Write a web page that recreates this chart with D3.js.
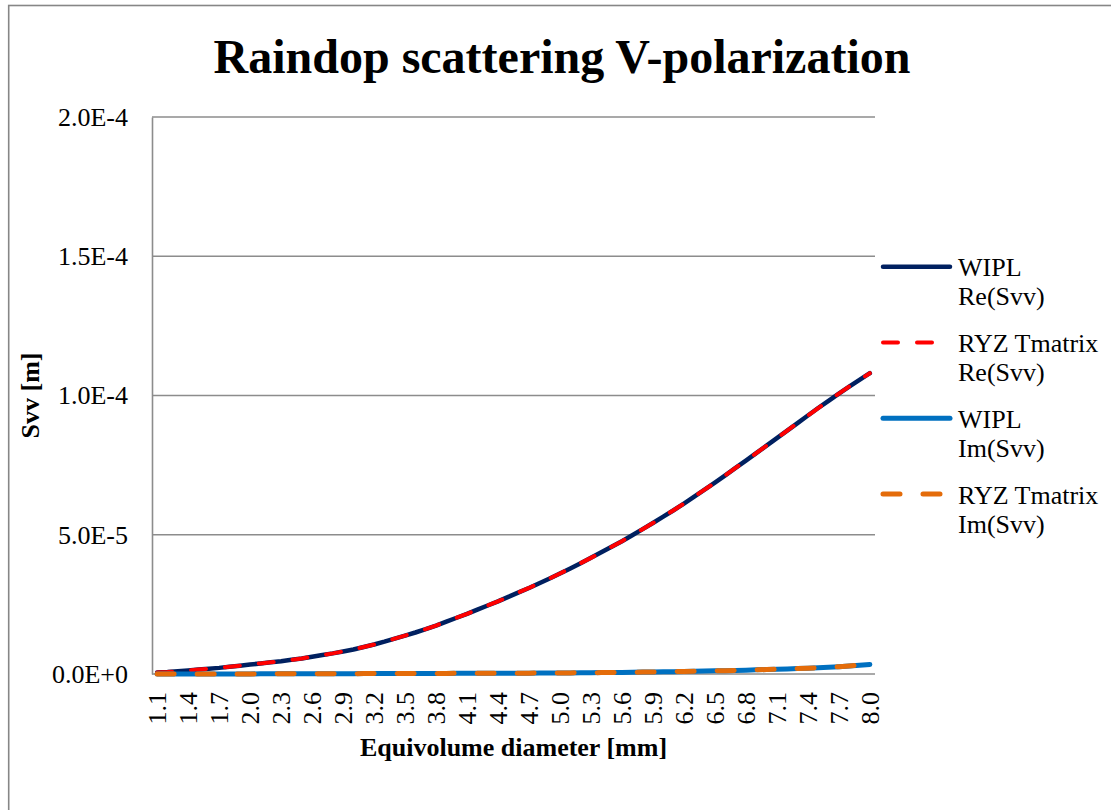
<!DOCTYPE html>
<html>
<head>
<meta charset="utf-8">
<script src="https://cdn.jsdelivr.net/npm/d3@7"></script>
<style>
  body { margin: 0; background: #fff; }
  svg text { font-family: "Times New Roman", "Liberation Serif", serif; fill: #000; }
</style>
</head>
<body>
<svg id="chart" width="1111" height="810"></svg>
<script>
// equivolume diameter [mm], 1.1 .. 8.0 step 0.1
var diameters = ["1.1","1.2","1.3","1.4","1.5","1.6","1.7","1.8","1.9","2.0",
  "2.1","2.2","2.3","2.4","2.5","2.6","2.7","2.8","2.9","3.0",
  "3.1","3.2","3.3","3.4","3.5","3.6","3.7","3.8","3.9","4.0",
  "4.1","4.2","4.3","4.4","4.5","4.6","4.7","4.8","4.9","5.0",
  "5.1","5.2","5.3","5.4","5.5","5.6","5.7","5.8","5.9","6.0",
  "6.1","6.2","6.3","6.4","6.5","6.6","6.7","6.8","6.9","7.0",
  "7.1","7.2","7.3","7.4","7.5","7.6","7.7","7.8","7.9","8.0"];

// values in units of 1e-5 m
var wiplRe = [0.05,0.07,0.10,0.13,0.16,0.19,0.22,0.26,0.30,0.34,
  0.38,0.42,0.46,0.51,0.56,0.62,0.68,0.74,0.81,0.88,
  0.97,1.06,1.16,1.27,1.38,1.49,1.61,1.74,1.88,2.02,
  2.16,2.31,2.46,2.61,2.77,2.93,3.09,3.26,3.43,3.61,
  3.79,3.98,4.17,4.37,4.57,4.77,4.98,5.20,5.42,5.65,
  5.88,6.12,6.37,6.62,6.87,7.13,7.40,7.66,7.93,8.20,
  8.47,8.74,9.01,9.28,9.55,9.81,10.07,10.32,10.56,10.80];

var ryzRe = [0.05,0.07,0.10,0.13,0.16,0.19,0.22,0.26,0.30,0.34,
  0.38,0.42,0.46,0.51,0.56,0.62,0.68,0.74,0.81,0.88,
  0.97,1.06,1.16,1.27,1.38,1.49,1.61,1.74,1.88,2.02,
  2.16,2.31,2.46,2.61,2.77,2.93,3.09,3.26,3.43,3.61,
  3.79,3.98,4.17,4.37,4.57,4.77,4.98,5.20,5.42,5.65,
  5.88,6.12,6.37,6.62,6.87,7.13,7.40,7.66,7.93,8.20,
  8.47,8.74,9.01,9.28,9.55,9.81,10.07,10.32,10.56,10.80];

var wiplIm = [0.000,0.000,0.001,0.001,0.001,0.002,0.002,0.003,0.003,0.004,
  0.005,0.005,0.006,0.007,0.008,0.009,0.010,0.011,0.012,0.013,
  0.014,0.015,0.016,0.017,0.018,0.019,0.020,0.021,0.022,0.023,
  0.024,0.025,0.026,0.027,0.028,0.029,0.031,0.033,0.035,0.037,
  0.040,0.043,0.046,0.050,0.054,0.058,0.063,0.068,0.073,0.079,
  0.085,0.091,0.098,0.105,0.113,0.121,0.130,0.139,0.149,0.160,
  0.171,0.183,0.196,0.210,0.225,0.241,0.262,0.288,0.316,0.345];

var ryzIm = [0.000,0.000,0.001,0.001,0.001,0.002,0.002,0.003,0.003,0.004,
  0.005,0.005,0.006,0.007,0.008,0.009,0.010,0.011,0.012,0.013,
  0.014,0.015,0.016,0.017,0.018,0.019,0.020,0.021,0.022,0.023,
  0.024,0.025,0.026,0.027,0.028,0.029,0.031,0.033,0.035,0.037,
  0.040,0.043,0.046,0.050,0.054,0.058,0.063,0.068,0.073,0.079,
  0.085,0.091,0.098,0.105,0.113,0.121,0.130,0.139,0.149,0.160,
  0.171,0.183,0.196,0.210,0.225,0.241,0.262,0.288,0.316,0.345];

var seriesNames = [["WIPL", "Re(Svv)"], ["RYZ Tmatrix", "Re(Svv)"], ["WIPL", "Im(Svv)"], ["RYZ Tmatrix", "Im(Svv)"]];
var yTicks = [0, 5e-5, 1e-4, 1.5e-4, 2e-4];
var yTickLabels = ["0.0E+0", "5.0E-5", "1.0E-4", "1.5E-4", "2.0E-4"];

var styles = [
  {color: "#002060", width: 4.5, dash: null},
  {color: "#ff0000", width: 4, dash: "15,19"},
  {color: "#0070c0", width: 5, dash: null},
  {color: "#e46c0a", width: 5, dash: "17,23"}
];

var margin = {top: 117, left: 152, right: 236, bottom: 136};
var W = 1111, H = 810;
var plotW = W - margin.left - margin.right;
var plotH = H - margin.top - margin.bottom;

var svg = d3.select("#chart");

// chart frame
svg.append("rect")
  .attr("x", 8.7).attr("y", 5.5)
  .attr("width", 1200).attr("height", 900)
  .attr("fill", "none")
  .attr("stroke", "#868686")
  .attr("stroke-width", 1.6);

var x = d3.scalePoint().domain(diameters).range([0, plotW]).padding(0.5);
var y = d3.scaleLinear().domain([0, 2e-4]).range([plotH, 0]);

var g = svg.append("g").attr("transform", "translate(" + margin.left + "," + margin.top + ")");

// gridlines
g.selectAll(".grid").data(yTicks).enter().append("line")
  .attr("x1", 0).attr("x2", plotW)
  .attr("y1", function(d) { return y(d); })
  .attr("y2", function(d) { return y(d); })
  .attr("stroke", "#8c8c8c")
  .attr("stroke-width", 1.4);

// y axis
var yAxis = d3.axisLeft(y).tickValues(yTicks)
  .tickFormat(function(d, i) { return yTickLabels[i]; })
  .tickSize(0).tickPadding(24);
var yg = g.append("g").call(yAxis);
yg.select(".domain").attr("stroke", "#8c8c8c").attr("stroke-width", 1.6);
yg.selectAll("text").style("font-size", "26px")
  .style("font-family", '"Times New Roman", "Liberation Serif", serif');

// x axis
var xAxis = d3.axisBottom(x)
  .tickValues(diameters.filter(function(d, i) { return i % 3 === 0; }))
  .tickSize(0);
var xg = g.append("g").attr("transform", "translate(0," + plotH + ")").call(xAxis);
xg.select(".domain").remove();
xg.selectAll("text")
  .style("font-size", "26px")
  .style("font-family", '"Times New Roman", "Liberation Serif", serif')
  .attr("text-anchor", "end")
  .attr("transform", "rotate(-90)")
  .attr("x", -18).attr("y", 0).attr("dy", "0.33em");

// series lines
var allSeries = [wiplRe, ryzRe, wiplIm, ryzIm];
var line = d3.line()
  .x(function(d, i) { return x(diameters[i]); })
  .y(function(d) { return y(d * 1e-5); });

allSeries.forEach(function(s, k) {
  g.append("path")
    .datum(s)
    .attr("d", line)
    .attr("fill", "none")
    .attr("stroke", styles[k].color)
    .attr("stroke-width", styles[k].width)
    .attr("stroke-linecap", "round")
    .attr("stroke-linejoin", "round")
    .attr("stroke-dasharray", styles[k].dash);
});

// title
svg.append("text")
  .attr("x", 562).attr("y", 73)
  .attr("text-anchor", "middle")
  .style("font-size", "48px")
  .style("font-weight", "bold")
  .text("Raindop scattering V-polarization");

// axis titles
svg.append("text")
  .attr("x", margin.left + plotW / 2).attr("y", 756)
  .attr("text-anchor", "middle")
  .style("font-size", "26px")
  .style("font-weight", "bold")
  .text("Equivolume diameter [mm]");

svg.append("text")
  .attr("transform", "translate(39," + (margin.top + plotH / 2) + ") rotate(-90)")
  .attr("text-anchor", "middle")
  .style("font-size", "26px")
  .style("font-weight", "bold")
  .text("Svv [m]");

// legend
var legend = svg.append("g");
seriesNames.forEach(function(nm, k) {
  var ly = 266.7 + k * 75.8;
  legend.append("line")
    .attr("x1", 883).attr("x2", 950)
    .attr("y1", ly).attr("y2", ly)
    .attr("stroke", styles[k].color)
    .attr("stroke-width", styles[k].width)
    .attr("stroke-linecap", "round")
    .attr("stroke-dasharray", styles[k].dash);
  var t = legend.append("text")
    .attr("x", 958).attr("y", ly + 9.5)
    .style("font-size", "26px");
  t.append("tspan").attr("x", 958).text(nm[0]);
  t.append("tspan").attr("x", 958).attr("dy", 29).text(nm[1]);
});
</script>
</body>
</html>
